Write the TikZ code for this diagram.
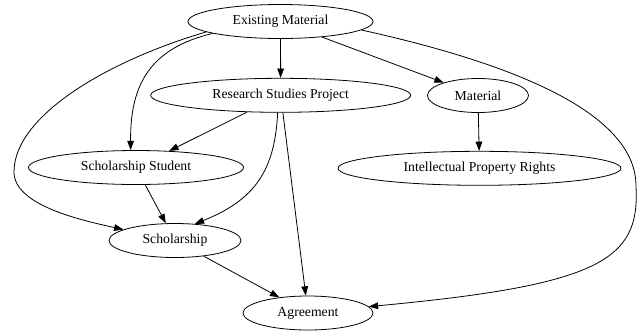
\documentclass[tikz,border=0pt]{standalone}
\usepackage{fontspec}
\setmainfont{Liberation Serif}
\usetikzlibrary{shapes.geometric,arrows.meta}
\tikzset{
    topic/.style={draw, ellipse, inner sep=0pt, minimum height=25.5pt,
        font=\fontsize{10.3}{12}\selectfont},
    >={Triangle[length=7pt,width=5pt]}
}

\begin{document}
\begin{tikzpicture}[x=0.75pt,y=-0.75pt,line width=0.6pt]
    \useasboundingbox (0,0) rectangle (637,330);
    \node[topic, minimum width=138.75pt] (em) at (280.5,21.5) {Existing Material};
    \node[topic, minimum width=195pt] (rsp) at (280.7,95.3) {Research Studies Project};
    \node[topic, minimum width=75.75pt] (mat) at (478,95.5) {Material};
    \node[topic, minimum width=161.25pt] (ss) at (136,167.5) {Scholarship Student};
    \node[topic, minimum width=212.25pt] (ipr) at (479.5,168.3) {Intellectual Property Rights};
    \node[topic, minimum width=99pt] (sch) at (175,240.5) {Scholarship};
    \node[topic, minimum width=97.5pt] (agr) at (308,313) {Agreement};

    \draw[->] (em) -- (rsp);
    \draw[->] (em) -- (mat);
    \draw[->] (mat) -- (ipr);
    \draw[->] (rsp) -- (ss);
    \draw[->] (rsp) -- (agr);
    \draw[->] (ss) -- (sch);
    \draw[->] (sch) -- (agr);
    % bogen
    \draw[->] (em.190) .. controls (150,48) and (130,85) .. (ss.107);
    \draw[->] (em.188) .. controls (110,60) and (14,115) .. (14,172)
        .. controls (14,205) and (80,220) .. (sch.168);
    \draw[->] (rsp.260) .. controls (275,170) and (255,200) .. (sch.40);
    \draw[->] (em.354) .. controls (520,65) and (637,115) .. (636,187)
        .. controls (640,260) and (600,285) .. (agr.6);
\end{tikzpicture}
\end{document}
